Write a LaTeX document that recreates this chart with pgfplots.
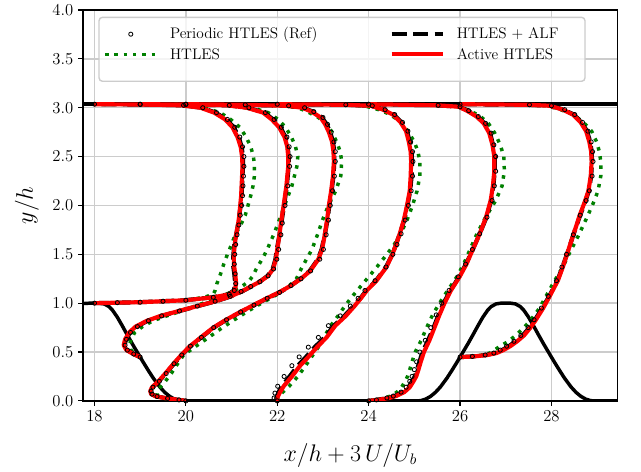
\documentclass[border=0pt]{standalone}
\usepackage{pgfplots}
\usepackage{pgfplotstable}
\pgfplotsset{compat=1.18}
\definecolor{mplgreen}{HTML}{008000}

\pgfplotstableread{
x y
17.75 0.996
17.893 1.0
18.0 1.0
18.107 1.0
18.214 0.9923
18.321 0.9643
18.393 0.9294
18.5 0.857
18.607 0.770
18.714 0.6786
18.821 0.5896
18.929 0.504
19.0 0.4481
19.071 0.3929
19.179 0.3111
19.286 0.2335
19.429 0.1429
19.536 0.0886
19.643 0.047
19.75 0.0185
19.857 0.003
19.929 0
25.071 0
25.143 0.003
25.25 0.0185
25.357 0.047
25.464 0.0886
25.571 0.1429
25.714 0.2335
25.821 0.3111
25.929 0.3929
26.0 0.4481
26.071 0.504
26.179 0.5896
26.286 0.6786
26.393 0.770
26.5 0.857
26.607 0.9294
26.679 0.9643
26.786 0.9923
26.893 1.0
27.0 1.0
27.107 1.0
27.214 0.9923
27.321 0.9643
27.393 0.9294
27.5 0.857
27.607 0.770
27.714 0.6786
27.821 0.5896
27.929 0.504
28.0 0.4481
28.071 0.3929
28.179 0.3111
28.286 0.2335
28.429 0.1429
28.536 0.0886
28.643 0.047
28.75 0.0185
28.857 0.003
28.929 0
29.45 0
}\hill

% profile at x/h = 18
\pgfplotstableread{
y r a g f
1.000 18.00 18.00 18.00 18.00
1.005 18.50 18.50 18.50 18.50
1.010 19.00 19.00 19.00 19.00
1.020 19.50 19.49 19.50 19.50
1.030 20.00 19.98 20.00 20.00
1.060 20.60 20.58 20.40 20.60
1.090 20.95 20.93 20.60 20.95
1.130 21.07 21.05 20.64 21.06
1.200 21.10 21.08 20.68 21.09
1.300 21.08 21.06 20.76 21.08
1.400 21.05 21.03 20.83 21.06
1.500 21.05 21.04 20.91 21.07
1.600 21.07 21.06 21.00 21.09
1.700 21.10 21.10 21.08 21.12
1.800 21.14 21.14 21.20 21.16
1.900 21.17 21.17 21.30 21.19
2.000 21.19 21.20 21.36 21.22
2.100 21.21 21.22 21.42 21.24
2.200 21.22 21.23 21.47 21.25
2.300 21.23 21.24 21.50 21.26
2.400 21.24 21.25 21.50 21.27
2.500 21.23 21.25 21.48 21.27
2.600 21.20 21.22 21.42 21.24
2.700 21.13 21.16 21.32 21.18
2.800 21.02 21.05 21.18 21.07
2.880 20.86 20.89 20.98 20.91
2.950 20.62 20.65 20.75 20.67
3.000 20.32 20.35 20.40 20.37
3.025 19.90 19.92 19.90 19.95
3.033 19.00 19.00 19.00 19.00
3.036 18.00 18.00 18.00 18.00
}\pA

% profile at x/h = 19
\pgfplotstableread{
y r a g f
0.448 19.00 19.00 19.00 19.00
0.480 18.85 18.86 18.90 18.86
0.520 18.70 18.72 18.80 18.72
0.570 18.64 18.66 18.77 18.67
0.630 18.67 18.69 18.80 18.70
0.700 18.76 18.78 18.88 18.79
0.760 18.90 18.92 19.05 18.94
0.820 19.15 19.17 19.28 19.18
0.870 19.45 19.47 19.58 19.47
0.920 19.85 19.86 19.90 19.86
0.970 20.25 20.26 20.20 20.25
1.020 20.65 20.66 20.50 20.64
1.070 20.98 20.99 20.78 20.97
1.120 21.22 21.23 21.02 21.21
1.170 21.42 21.43 21.22 21.42
1.220 21.62 21.62 21.37 21.62
1.280 21.80 21.79 21.47 21.80
1.350 21.91 21.90 21.54 21.92
1.450 21.97 21.96 21.67 21.99
1.550 22.00 21.99 21.78 22.03
1.700 22.05 22.05 21.92 22.08
1.820 22.08 22.09 22.02 22.11
2.000 22.14 22.15 22.16 22.17
2.200 22.20 22.21 22.32 22.23
2.400 22.24 22.25 22.43 22.27
2.500 22.24 22.25 22.45 22.28
2.600 22.22 22.23 22.40 22.26
2.700 22.16 22.18 22.31 22.21
2.800 22.04 22.07 22.18 22.09
2.880 21.88 21.91 22.02 21.93
2.950 21.69 21.72 21.80 21.74
3.000 21.33 21.36 21.45 21.38
3.025 20.90 20.92 20.95 20.95
3.033 20.00 20.00 20.00 20.00
3.036 19.00 19.00 19.00 19.00
}\pB

% profile at x/h = 20
\pgfplotstableread{
y r a g f
0.000 20.00 20.00 20.00 20.00
0.010 19.85 19.85 19.80 19.85
0.025 19.60 19.60 19.55 19.60
0.045 19.35 19.36 19.40 19.37
0.070 19.24 19.25 19.37 19.26
0.100 19.22 19.23 19.38 19.24
0.140 19.26 19.27 19.44 19.28
0.200 19.40 19.41 19.55 19.42
0.280 19.55 19.56 19.68 19.57
0.380 19.73 19.74 19.82 19.74
0.470 19.90 19.91 19.95 19.91
0.560 20.09 20.10 20.22 20.10
0.650 20.33 20.34 20.50 20.34
0.750 20.60 20.61 20.80 20.61
0.830 20.88 20.89 21.06 20.89
0.910 21.19 21.20 21.33 21.20
0.980 21.48 21.49 21.58 21.49
1.050 21.77 21.78 21.85 21.78
1.110 22.04 22.05 22.07 22.05
1.180 22.30 22.30 22.27 22.30
1.250 22.52 22.51 22.42 22.52
1.330 22.72 22.71 22.50 22.73
1.450 22.90 22.89 22.64 22.93
1.550 22.98 22.97 22.76 23.01
1.700 23.04 23.04 22.88 23.07
1.850 23.09 23.10 22.99 23.12
2.000 23.13 23.14 23.12 23.16
2.150 23.18 23.19 23.28 23.21
2.300 23.22 23.23 23.39 23.25
2.450 23.24 23.25 23.41 23.27
2.550 23.23 23.25 23.38 23.27
2.650 23.20 23.22 23.30 23.24
2.750 23.13 23.16 23.20 23.18
2.830 23.05 23.08 23.08 23.10
2.900 22.95 22.98 22.90 23.00
2.960 22.75 22.78 22.66 22.80
3.000 22.55 22.57 22.45 22.60
3.020 22.20 22.22 22.15 22.25
3.030 21.30 21.30 21.30 21.30
3.036 20.00 20.00 20.00 20.00
}\pC

% profile at x/h = 22
\pgfplotstableread{
y r a g f
0.000 22.00 22.00 22.00 22.00
0.030 22.00 21.98 22.02 21.93
0.080 22.05 22.02 22.10 21.95
0.150 22.14 22.10 22.26 22.01
0.250 22.32 22.27 22.45 22.15
0.360 22.50 22.45 22.62 22.32
0.450 22.68 22.63 22.75 22.48
0.550 22.87 22.82 22.90 22.68
0.650 23.08 23.04 23.02 22.90
0.770 23.27 23.24 23.17 23.12
0.870 23.50 23.47 23.33 23.38
0.970 23.69 23.67 23.48 23.60
1.050 23.83 23.82 23.61 23.77
1.130 23.96 23.95 23.75 23.92
1.230 24.17 24.16 23.93 24.14
1.370 24.39 24.38 24.18 24.38
1.500 24.52 24.52 24.40 24.53
1.600 24.60 24.60 24.56 24.62
1.710 24.68 24.68 24.70 24.71
1.850 24.77 24.78 24.84 24.80
2.000 24.84 24.85 24.96 24.87
2.150 24.90 24.91 25.06 24.93
2.300 24.92 24.94 25.12 24.96
2.450 24.93 24.95 25.12 24.97
2.550 24.92 24.94 25.08 24.96
2.650 24.88 24.90 25.00 24.92
2.760 24.82 24.84 24.86 24.86
2.850 24.70 24.72 24.70 24.74
2.930 24.53 24.55 24.48 24.57
2.980 24.32 24.34 24.22 24.36
3.020 24.05 24.06 23.90 24.08
3.030 23.50 23.50 23.40 23.50
3.036 22.00 22.00 22.00 22.00
}\pD

% profile at x/h = 24
\pgfplotstableread{
y r a g f
0.000 24.00 24.00 24.00 24.00
0.010 24.20 24.18 24.15 24.17
0.030 24.45 24.42 24.35 24.40
0.050 24.60 24.57 24.48 24.54
0.090 24.78 24.75 24.62 24.71
0.140 24.90 24.87 24.72 24.82
0.200 24.98 24.95 24.80 24.90
0.250 25.04 25.01 24.85 24.95
0.320 25.09 25.06 24.90 25.00
0.400 25.14 25.11 24.95 25.05
0.500 25.21 25.18 25.02 25.12
0.620 25.33 25.30 25.15 25.24
0.750 25.44 25.42 25.27 25.36
0.880 25.55 25.53 25.40 25.48
1.000 25.66 25.64 25.55 25.60
1.130 25.80 25.79 25.73 25.76
1.270 25.99 25.98 25.93 25.96
1.400 26.14 26.13 26.08 26.12
1.550 26.28 26.28 26.22 26.27
1.710 26.43 26.43 26.37 26.43
1.880 26.57 26.58 26.56 26.59
2.050 26.67 26.68 26.78 26.70
2.200 26.72 26.73 26.92 26.75
2.350 26.75 26.76 26.97 26.78
2.500 26.75 26.76 26.96 26.78
2.620 26.71 26.72 26.88 26.74
2.740 26.64 26.66 26.76 26.68
2.840 26.52 26.54 26.62 26.56
2.910 26.36 26.38 26.45 26.40
2.970 26.15 26.17 26.22 26.19
3.010 25.97 25.98 25.97 26.00
3.025 25.50 25.50 25.50 25.52
3.036 24.00 24.00 24.00 24.00
}\pE

% profile at x/h = 26
\pgfplotstableread{
y r a g f
0.448 26.00 26.00 26.00 26.00
0.455 26.30 26.28 26.25 26.27
0.470 26.60 26.57 26.50 26.55
0.490 26.80 26.77 26.65 26.74
0.520 26.95 26.92 26.75 26.88
0.560 27.10 27.07 26.88 27.02
0.610 27.25 27.22 27.06 27.18
0.670 27.40 27.37 27.22 27.33
0.750 27.54 27.52 27.40 27.49
0.830 27.66 27.64 27.55 27.62
0.950 27.82 27.80 27.74 27.78
1.070 27.96 27.95 27.88 27.93
1.230 28.14 28.13 28.07 28.11
1.370 28.25 28.24 28.25 28.23
1.500 28.34 28.34 28.38 28.33
1.700 28.48 28.48 28.60 28.48
1.900 28.62 28.63 28.80 28.63
2.050 28.74 28.75 28.94 28.76
2.150 28.81 28.82 29.02 28.83
2.300 28.86 28.87 29.08 28.89
2.450 28.88 28.89 29.08 28.91
2.550 28.87 28.88 29.05 28.90
2.650 28.83 28.85 28.99 28.87
2.760 28.76 28.78 28.88 28.80
2.850 28.64 28.66 28.70 28.68
2.930 28.47 28.49 28.48 28.51
2.980 28.25 28.27 28.20 28.29
3.020 27.97 27.98 27.90 28.00
3.030 27.50 27.50 27.40 27.52
3.036 26.00 26.00 26.00 26.00
}\pF

\pgfplotsset{
  refst/.style={only marks, mark=o, mark size=1.5pt, black, mark options={line width=0.6pt}, forget plot},
  htst/.style={mplgreen, line width=2.5pt, dash pattern=on 2.5pt off 4.2pt, forget plot},
  alfst/.style={black, line width=3pt, dash pattern=on 11pt off 4.5pt, forget plot},
  actst/.style={red, line width=3pt, line join=round, forget plot},
  refleg/.style={only marks, mark=o, mark size=1.5pt, black, mark options={line width=0.6pt},
    legend image code/.code={\path (0pt,0pt) (37pt,0pt); \draw[mark repeat=2,mark phase=2,##1] plot coordinates {(0pt,0pt) (18.5pt,0pt) (37pt,0pt)};}},
}

\begin{document}
\begin{tikzpicture}
\begin{axis}[
  scale only axis, width=385pt, height=281.5pt,
  xmin=17.75, xmax=29.45, ymin=0, ymax=4,
  xtick={18,20,22,24,26,28},
  ytick={0,0.5,1,1.5,2,2.5,3,3.5,4},
  yticklabel style={/pgf/number format/.cd,fixed,fixed zerofill,precision=1},
  xtick pos=left, ytick pos=left,
  tick align=outside, major tick length=3.5pt,
  tick style={black, line width=0.8pt},
  axis line style={black, line width=1pt},
  grid=major, major grid style={gray!40, line width=1pt},
  tick label style={font=\fontsize{12}{14}\selectfont},
  label style={font=\fontsize{16}{19}\selectfont},
  xlabel={$x/h + 3\,U/U_b$},
  ylabel={$y/h$},
  xlabel style={at={(axis description cs:0.5,-0.139)}, anchor=center},
  ylabel style={at={(axis description cs:-0.105,0.5)}, anchor=center},
  legend columns=2, legend cell align=left,
  legend image code/.code={\draw[#1] (0pt,0pt) -- (37pt,0pt);},
  legend style={draw=none, fill=none, at={(axis description cs:0.0297,0.9123)}, anchor=west,
    font=\fontsize{11}{13}\selectfont, row sep=0.8pt, nodes={inner ysep=2pt},
    /tikz/every odd column/.append style={column sep=6.5pt}},
]
\addplot[black, line width=2.5pt, line join=round, forget plot] table[x=x,y=y] {\hill};
\addplot[black, line width=2.5pt, forget plot] coordinates {(17.75,3.036) (29.45,3.036)};

\addplot[refst] table[x=f,y=y] {\pA};
\addplot[refst] table[x=f,y=y] {\pB};
\addplot[refst] table[x=f,y=y] {\pC};
\addplot[refst] table[x=f,y=y] {\pD};
\addplot[refst] table[x=f,y=y] {\pE};
\addplot[refst] table[x=f,y=y] {\pF};

\addplot[htst] table[x=g,y=y] {\pA};
\addplot[htst] table[x=g,y=y] {\pB};
\addplot[htst] table[x=g,y=y] {\pC};
\addplot[htst] table[x=g,y=y] {\pD};
\addplot[htst] table[x=g,y=y] {\pE};
\addplot[htst] table[x=g,y=y] {\pF};

\addplot[alfst] table[x=a,y=y] {\pA};
\addplot[alfst] table[x=a,y=y] {\pB};
\addplot[alfst] table[x=a,y=y] {\pC};
\addplot[alfst] table[x=a,y=y] {\pD};
\addplot[alfst] table[x=a,y=y] {\pE};
\addplot[alfst] table[x=a,y=y] {\pF};

\addplot[actst] table[x=r,y=y] {\pA};
\addplot[actst] table[x=r,y=y] {\pB};
\addplot[actst] table[x=r,y=y] {\pC};
\addplot[actst] table[x=r,y=y] {\pD};
\addplot[actst] table[x=r,y=y] {\pE};
\addplot[actst] table[x=r,y=y] {\pF};

\draw[rounded corners=2.5pt, draw=black!20, line width=1pt, fill=white, fill opacity=0.8]
  (axis description cs:0.0299,0.9813) rectangle (axis description cs:0.9389,0.8176);

\addlegendimage{refleg}
\addlegendentry{\makebox[156pt][l]{Periodic HTLES (Ref)\vphantom{(}}}
\addlegendimage{black, line width=3pt, dash pattern=on 11pt off 4.5pt}
\addlegendentry{\makebox[90pt][l]{HTLES + ALF\vphantom{(}}}
\addlegendimage{mplgreen, line width=2.5pt, dash pattern=on 2.5pt off 4.2pt}
\addlegendentry{\makebox[156pt][l]{HTLES\vphantom{(}}}
\addlegendimage{red, line width=3pt}
\addlegendentry{\makebox[90pt][l]{Active HTLES\vphantom{(}}}
\end{axis}
\path ([shift={(-59.8pt,-49.2pt)}]current axis.south west) rectangle ([shift={(16.8pt,7pt)}]current axis.north east);
\end{tikzpicture}
\end{document}
